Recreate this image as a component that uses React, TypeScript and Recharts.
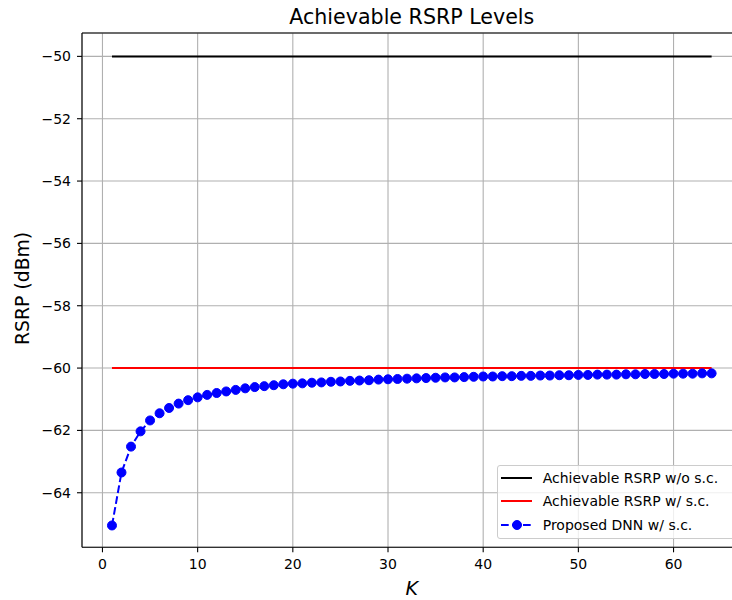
import React from 'react';
import { LineChart, Line, XAxis, YAxis, CartesianGrid, ReferenceLine, Legend } from 'recharts';

const kValues = [
  1, 2, 3, 4, 5, 6, 7, 8, 9, 10, 11, 12, 13, 14, 15, 16,
  17, 18, 19, 20, 21, 22, 23, 24, 25, 26, 27, 28, 29, 30, 31, 32,
  33, 34, 35, 36, 37, 38, 39, 40, 41, 42, 43, 44, 45, 46, 47, 48,
  49, 50, 51, 52, 53, 54, 55, 56, 57, 58, 59, 60, 61, 62, 63, 64,
];

const dnnRsrp = [
  -65.05, -63.35, -62.52, -62.03, -61.68, -61.45, -61.28, -61.14,
  -61.03, -60.94, -60.86, -60.8, -60.75, -60.7, -60.65, -60.61,
  -60.58, -60.55, -60.52, -60.5, -60.49, -60.47, -60.46, -60.44,
  -60.43, -60.41, -60.4, -60.39, -60.37, -60.36, -60.35, -60.34,
  -60.33, -60.32, -60.31, -60.3, -60.3, -60.29, -60.28, -60.27,
  -60.27, -60.26, -60.26, -60.25, -60.25, -60.24, -60.24, -60.23,
  -60.23, -60.22, -60.22, -60.21, -60.21, -60.21, -60.2, -60.2,
  -60.19, -60.19, -60.19, -60.18, -60.18, -60.18, -60.17, -60.17,
];

// the two reference levels are flat, so only their end points are stored
const kEnds = [1, 64];
const rsrpWithoutSc = [-50, -50];
const rsrpWithSc = [-60, -60];

const xTicks = [0, 10, 20, 30, 40, 50, 60];
const yTicks = [-64, -62, -60, -58, -56, -54, -52, -50];

const FONT = '"DejaVu Sans", sans-serif';
const X_DOMAIN: [number, number] = [-2.15, 67.15];
const Y_DOMAIN: [number, number] = [-65.75, -49.25];

const dnnData = kValues.map((k, i) => ({ k, v: dnnRsrp[i] }));
const withoutData = kEnds.map((k, i) => ({ k, v: rsrpWithoutSc[i] }));
const withData = kEnds.map((k, i) => ({ k, v: rsrpWithSc[i] }));

const fmt = (v: number) => (v < 0 ? `\u2212${Math.abs(v)}` : `${v}`);

const legendItems = [
  { label: 'Achievable RSRP w/o s.c.', color: 'black', dashed: false, marker: false },
  { label: 'Achievable RSRP w/ s.c.', color: 'red', dashed: false, marker: false },
  { label: 'Proposed DNN w/ s.c.', color: 'blue', dashed: true, marker: true },
];
const rowY = [12, 35.3, 58.6];

const LegendBox = () => (
  <div
    style={{
      position: 'relative',
      width: 250,
      height: 74,
      boxSizing: 'border-box',
      border: '1px solid #cccccc',
      borderRadius: 3,
      background: 'rgba(255,255,255,0.8)',
      fontFamily: FONT,
      fontSize: 14,
      color: 'black',
    }}
  >
    {legendItems.map((it, i) => (
      <div
        key={it.label}
        style={{
          position: 'absolute',
          left: 0,
          top: rowY[i] - 10,
          height: 20,
          display: 'flex',
          alignItems: 'center',
          whiteSpace: 'nowrap',
        }}
      >
        <svg width={45} height={20}>
          <line
            x1={3}
            x2={34}
            y1={10}
            y2={10}
            stroke={it.color}
            strokeWidth={2}
            strokeDasharray={it.dashed ? '7.7 3.3' : undefined}
          />
          {it.marker && <circle cx={19} cy={10} r={4.5} fill={it.color} stroke={it.color} strokeWidth={1} />}
        </svg>
        <span>{it.label}</span>
      </div>
    ))}
  </div>
);

export default function App() {
  return (
    <div
      style={{
        position: 'absolute',
        left: 0,
        top: 0,
        width: 732,
        height: 600,
        overflow: 'hidden',
        background: 'white',
      }}
    >
      <LineChart width={760} height={600} margin={{ top: 33, right: 18.4, bottom: 0, left: 0 }}>
        <CartesianGrid stroke="#b0b0b0" strokeWidth={1.1} />
        <XAxis
          dataKey="k"
          type="number"
          domain={X_DOMAIN}
          ticks={xTicks}
          allowDataOverflow
          height={52.7}
          stroke="black"
          strokeWidth={1.1}
          tickSize={5}
          tickMargin={7}
          tick={{ fill: 'black', fontSize: 14, fontFamily: FONT }}
        />
        <YAxis
          type="number"
          domain={Y_DOMAIN}
          ticks={yTicks}
          allowDataOverflow
          width={82}
          stroke="black"
          strokeWidth={1.1}
          tickSize={5}
          tickMargin={6}
          tickFormatter={fmt}
          tick={{ fill: 'black', fontSize: 14, fontFamily: FONT }}
        />
        <ReferenceLine y={Y_DOMAIN[1]} stroke="black" strokeWidth={1.1} ifOverflow="visible" />
        <Line
          data={withoutData}
          dataKey="v"
          type="linear"
          stroke="black"
          strokeWidth={2}
          dot={false}
          isAnimationActive={false}
        />
        <Line
          data={withData}
          dataKey="v"
          type="linear"
          stroke="red"
          strokeWidth={2}
          dot={false}
          isAnimationActive={false}
        />
        <Line
          data={dnnData}
          dataKey="v"
          type="linear"
          stroke="blue"
          strokeWidth={2}
          strokeDasharray="7.7 3.3"
          dot={{ r: 4.5, fill: 'blue', stroke: 'blue', strokeWidth: 1, strokeDasharray: 'none' }}
          isAnimationActive={false}
        />
        <Legend
          layout="vertical"
          align="center"
          verticalAlign="middle"
          content={() => <LegendBox />}
          wrapperStyle={{ left: 496.7, top: 465, width: 250, height: 74 }}
        />
      </LineChart>
      <svg
        width={732}
        height={600}
        style={{ position: 'absolute', left: 0, top: 0, pointerEvents: 'none' }}
      >
        <text x={411.8} y={24} textAnchor="middle" fontFamily={FONT} fontSize={20.6} fill="black">
          Achievable RSRP Levels
        </text>
        <text
          x={28.7}
          y={288.4}
          textAnchor="middle"
          transform="rotate(-90 28.7 288.4)"
          fontFamily={FONT}
          fontSize={18.8}
          fill="black"
        >
          RSRP (dBm)
        </text>
        <text x={411.8} y={595} textAnchor="middle" fontFamily={FONT} fontStyle="italic" fontSize={19.2} fill="black">
          K
        </text>
      </svg>
    </div>
  );
}
